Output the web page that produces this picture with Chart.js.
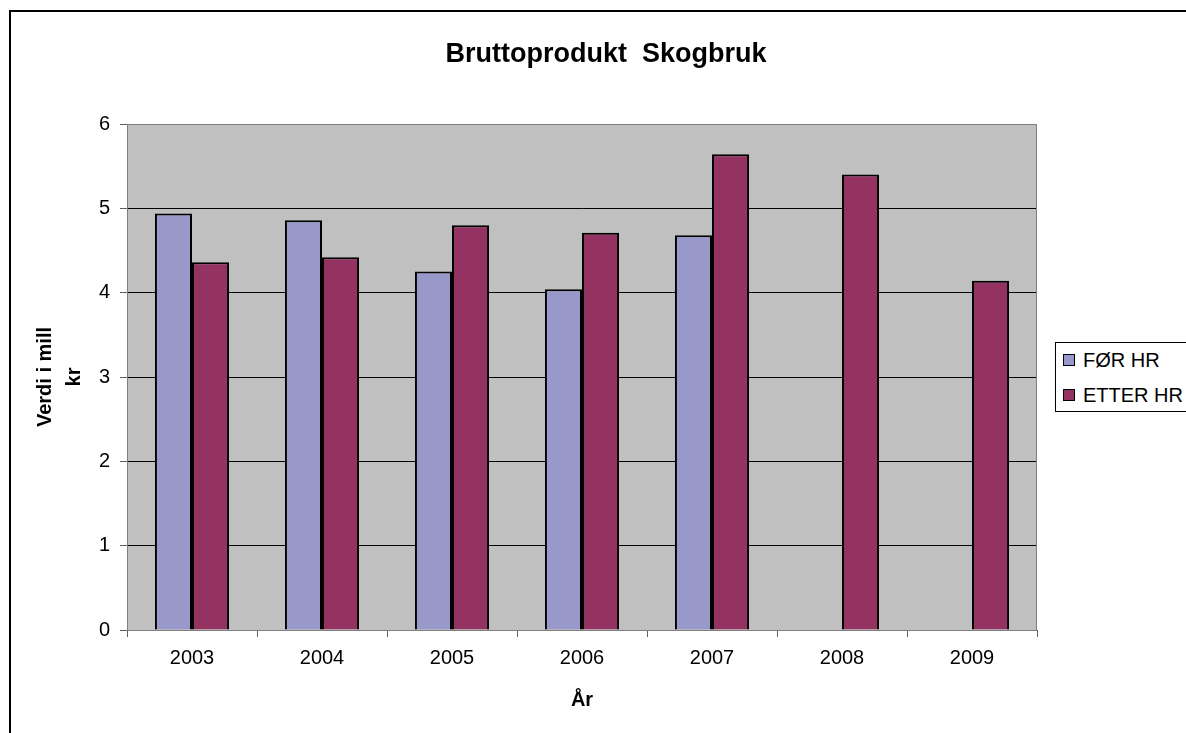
<!DOCTYPE html>
<html>
<head>
<meta charset="utf-8">
<script src="https://cdn.jsdelivr.net/npm/chart.js@4.4.1/dist/chart.umd.min.js"></script>
<style>
  html, body { margin: 0; padding: 0; background: #fff; overflow: hidden; }
  body { width: 1186px; height: 733px; position: relative; font-family: "Liberation Sans", Arial, sans-serif; }
  .frame { position: absolute; left: 9px; top: 10px; width: 1400px; height: 1000px; border: 2px solid #000; }
  .wrap { position: absolute; left: 0; top: 0; width: 1186px; height: 733px; }
  .legend { position: absolute; left: 1055px; top: 342px; width: 200px; height: 68px; border: 1px solid #000; background: #fff; }
  .legend .item { position: absolute; left: 7px; height: 20px; line-height: 20px; font-size: 20px; color: #000; white-space: nowrap; }
  .legend .box { position: absolute; left: 0; top: 4px; width: 10px; height: 10px; border: 1px solid #000; }
  .legend .txt { position: absolute; left: 20px; top: 0; }
</style>
</head>
<body>
<div class="frame"></div>
<div class="wrap"><canvas id="chart" width="1186" height="733"></canvas></div>
<div class="legend" id="legend"></div>
<script>
const categories = ['2003', '2004', '2005', '2006', '2007', '2008', '2009']
const forHR = [4.94, 4.86, 4.25, 4.04, 4.68, null, null]
const etterHR = [4.36, 4.42, 4.80, 4.71, 5.64, 5.40, 4.14]
const seriesNames = ['FØR HR', 'ETTER HR']
const seriesColors = ['#9898CA', '#943262']
const chartTitle = 'Bruttoprodukt  Skogbruk'
const yTitle = ['Verdi i mill', 'kr']
const xTitle = 'År'

const fontFamily = '"Liberation Sans", Arial, sans-serif'

const plotBackground = {
  id: 'plotBackground',
  beforeDraw (chart) {
    const { ctx, chartArea: a } = chart
    ctx.save()
    ctx.fillStyle = '#C0C0C0'
    ctx.fillRect(a.left, a.top, a.right - a.left, a.bottom - a.top)
    ctx.restore()
  },
  afterDraw (chart) {
    const { ctx, chartArea: a } = chart
    ctx.save()
    ctx.strokeStyle = '#808080'
    ctx.lineWidth = 1
    ctx.strokeRect(a.left + 0.5, a.top + 0.5, a.right - a.left - 1, a.bottom - a.top)
    // title
    ctx.fillStyle = '#000'
    ctx.font = 'bold 27px ' + fontFamily
    ctx.textAlign = 'center'
    ctx.textBaseline = 'middle'
    ctx.fillText(chartTitle, 606, 55)
    ctx.restore()
  }
}

const ctx = document.getElementById('chart')

new Chart(ctx, {
  type: 'bar',
  data: {
    labels: categories,
    datasets: [
      { label: seriesNames[0], data: forHR, backgroundColor: seriesColors[0], borderColor: '#000', borderWidth: 2 },
      { label: seriesNames[1], data: etterHR, backgroundColor: seriesColors[1], borderColor: '#000', borderWidth: 2 }
    ]
  },
  options: {
    responsive: false,
    animation: false,
    events: [],
    datasets: { bar: { barPercentage: 1, categoryPercentage: 0.57 } },
    layout: { padding: { left: 12, right: 149, top: 124, bottom: 0 } },
    plugins: {
      legend: { display: false },
      title: { display: false },
      tooltip: { enabled: false }
    },
    scales: {
      x: {
        grid: { drawOnChartArea: false, drawTicks: true, tickLength: 7, tickColor: '#606060', offset: true },
        border: { display: true, color: '#606060', width: 1 },
        ticks: { color: '#000', font: { family: fontFamily, size: 20 }, padding: 9 },
        title: { display: true, text: xTitle, color: '#000', font: { family: fontFamily, size: 20, weight: 'bold' }, padding: { top: 0, bottom: 21 } },
        afterFit (scale) { scale.height = 103 }
      },
      y: {
        min: 0,
        max: 6,
        ticks: { stepSize: 1, color: '#000', font: { family: fontFamily, size: 20 }, padding: 10 },
        grid: {
          color: (c) => (c.tick && (c.tick.value === 0 || c.tick.value === 6)) ? '#808080' : '#000',
          tickColor: '#606060',
          tickLength: 7,
          lineWidth: 1
        },
        border: { display: true, color: '#808080', width: 1 },
        title: { display: true, text: yTitle, color: '#000', font: { family: fontFamily, size: 20, weight: 'bold', lineHeight: 1.45 }, padding: { top: 19, bottom: 0 } },
        afterFit (scale) { scale.width = 115 }
      }
    }
  },
  plugins: [plotBackground]
})

const legendDiv = document.getElementById('legend')
seriesNames.forEach((name, i) => {
  const item = document.createElement('div')
  item.className = 'item'
  item.style.top = (i === 0 ? 7 : 42) + 'px'
  const box = document.createElement('div')
  box.className = 'box'
  box.style.background = seriesColors[i]
  const txt = document.createElement('div')
  txt.className = 'txt'
  txt.textContent = name
  item.appendChild(box)
  item.appendChild(txt)
  legendDiv.appendChild(item)
})
</script>
</body>
</html>
